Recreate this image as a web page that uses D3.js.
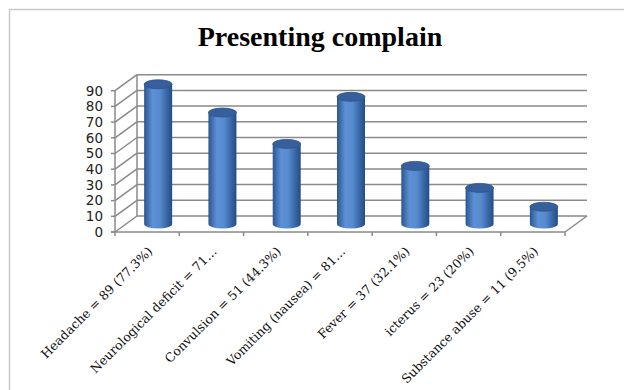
<!DOCTYPE html>
<html>
<head>
<meta charset="utf-8">
<script src="https://cdn.jsdelivr.net/npm/d3@7"></script>
<style>
  body { margin: 0; background: #fff; }
  svg { display: block; }
</style>
</head>
<body>
<div id="chart"></div>
<script>
var categories = ['Headache = 89 (77.3%)', 'Neurological deficit = 71\u2026', 'Convulsion = 51 (44.3%)',
                  'Vomiting (nausea) = 81\u2026', 'Fever = 37 (32.1%)', 'icterus = 23 (20%)',
                  'Substance abuse = 11 (9.5%)'];
var values = [89, 71, 51, 81, 37, 23, 11];
var yTicks = [0, 10, 20, 30, 40, 50, 60, 70, 80, 90];

var w = 624,
    h = 390,
    x0 = 115,
    x1 = 565,
    yBase = 232,
    yTop = 90.7,
    dx = 22,
    dy = -16,
    barW = 28,
    ry = 4.5;

var x = d3.scaleBand().domain(categories).range([x0, x1]);
var y = d3.scaleLinear().domain([0, 90]).range([yBase, yTop]);

var svg = d3.select('#chart')
  .append('svg')
  .attr('width', w)
  .attr('height', h);

var defs = svg.append('defs');
var grad = defs.append('linearGradient').attr('id', 'cyl');
grad.append('stop').attr('offset', '0%').attr('stop-color', '#2a5690');
grad.append('stop').attr('offset', '30%').attr('stop-color', '#5d91d6');
grad.append('stop').attr('offset', '55%').attr('stop-color', '#578bd0');
grad.append('stop').attr('offset', '100%').attr('stop-color', '#234c84');

// outer border
svg.append('rect')
  .attr('x', 9.5).attr('y', 9.5)
  .attr('width', w).attr('height', h)
  .attr('fill', 'none')
  .attr('stroke', '#c8c8c8')
  .attr('stroke-width', 1.5);

svg.append('text')
  .attr('x', 320)
  .attr('y', 46)
  .attr('text-anchor', 'middle')
  .style('font-family', '"Liberation Serif", serif')
  .attr('font-weight', 'bold')
  .attr('font-size', 28)
  .text('Presenting complain');

var grid = svg.append('g')
  .attr('stroke', '#8a8a8a')
  .attr('stroke-width', 1.5)
  .attr('fill', 'none');

// back wall gridlines + left wall diagonals
yTicks.forEach(function(t) {
  grid.append('line')
    .attr('x1', x0 + dx).attr('y1', y(t) + dy)
    .attr('x2', x1 + dx).attr('y2', y(t) + dy);
  grid.append('line')
    .attr('x1', x0).attr('y1', y(t))
    .attr('x2', x0 + dx).attr('y2', y(t) + dy);
});
grid.append('line')
  .attr('x1', x0 + dx).attr('y1', y(0) + dy)
  .attr('x2', x0 + dx).attr('y2', y(90) + dy);
// floor
grid.append('line')
  .attr('x1', x1).attr('y1', y(0))
  .attr('x2', x1 + dx).attr('y2', y(0) + dy);

// front axes
var axis = svg.append('g').attr('stroke', '#8a8a8a').attr('stroke-width', 1.5);
axis.append('line')
  .attr('x1', x0).attr('y1', y(0))
  .attr('x2', x0).attr('y2', y(90));
axis.append('line')
  .attr('x1', x0 - 4).attr('y1', y(0))
  .attr('x2', x1).attr('y2', y(0));
x.domain().concat(['end']).forEach(function(c, i) {
  var xx = x0 + i * x.bandwidth();
  axis.append('line')
    .attr('x1', xx).attr('y1', y(0))
    .attr('x2', xx).attr('y2', y(0) + 4);
});
yTicks.forEach(function(t) {
  axis.append('line')
    .attr('x1', x0 - 4).attr('y1', y(t))
    .attr('x2', x0).attr('y2', y(t));
});

svg.append('g').selectAll('text').data(yTicks)
  .enter()
  .append('text')
  .attr('x', 103)
  .attr('y', function(d) { return y(d); })
  .attr('dy', '0.36em')
  .attr('text-anchor', 'end')
  .style('font-family', '"DejaVu Sans", sans-serif')
  .attr('font-size', 13.5)
  .attr('fill', '#222')
  .text(function(d) { return d; });

// cylinders at mid depth
var bars = svg.append('g').selectAll('g').data(values)
  .enter()
  .append('g')
  .attr('transform', function(d, i) {
    var cx = x(categories[i]) + x.bandwidth() / 2 + dx / 2;
    return 'translate(' + cx + ' ' + (dy / 2) + ')';
  });

bars.append('path')
  .attr('fill', 'url(#cyl)')
  .attr('d', function(d) {
    var r = barW / 2, yb = y(0), yt = y(d);
    return 'M' + (-r) + ',' + yt +
      'L' + (-r) + ',' + yb +
      'A' + r + ',' + ry + ' 0 0 0 ' + r + ',' + yb +
      'L' + r + ',' + yt + 'Z';
  });

bars.append('ellipse')
  .attr('cx', 0)
  .attr('cy', function(d) { return y(d); })
  .attr('rx', barW / 2)
  .attr('ry', ry)
  .attr('fill', '#365f9c')
  .attr('stroke', '#2c5590')
  .attr('stroke-width', 0.8);

svg.append('g').selectAll('text').data(categories)
  .enter()
  .append('text')
  .attr('transform', function(d) {
    return 'translate(' + (x(d) + x.bandwidth() / 2 + 3) + ' ' + 249 + ') rotate(-45)';
  })
  .attr('dy', '0.35em')
  .attr('text-anchor', 'end')
  .style('font-family', '"DejaVu Serif", serif')
  .attr('font-size', 12.5)
  .attr('fill', '#111')
  .text(function(d) { return d; });
</script>
</body>
</html>
